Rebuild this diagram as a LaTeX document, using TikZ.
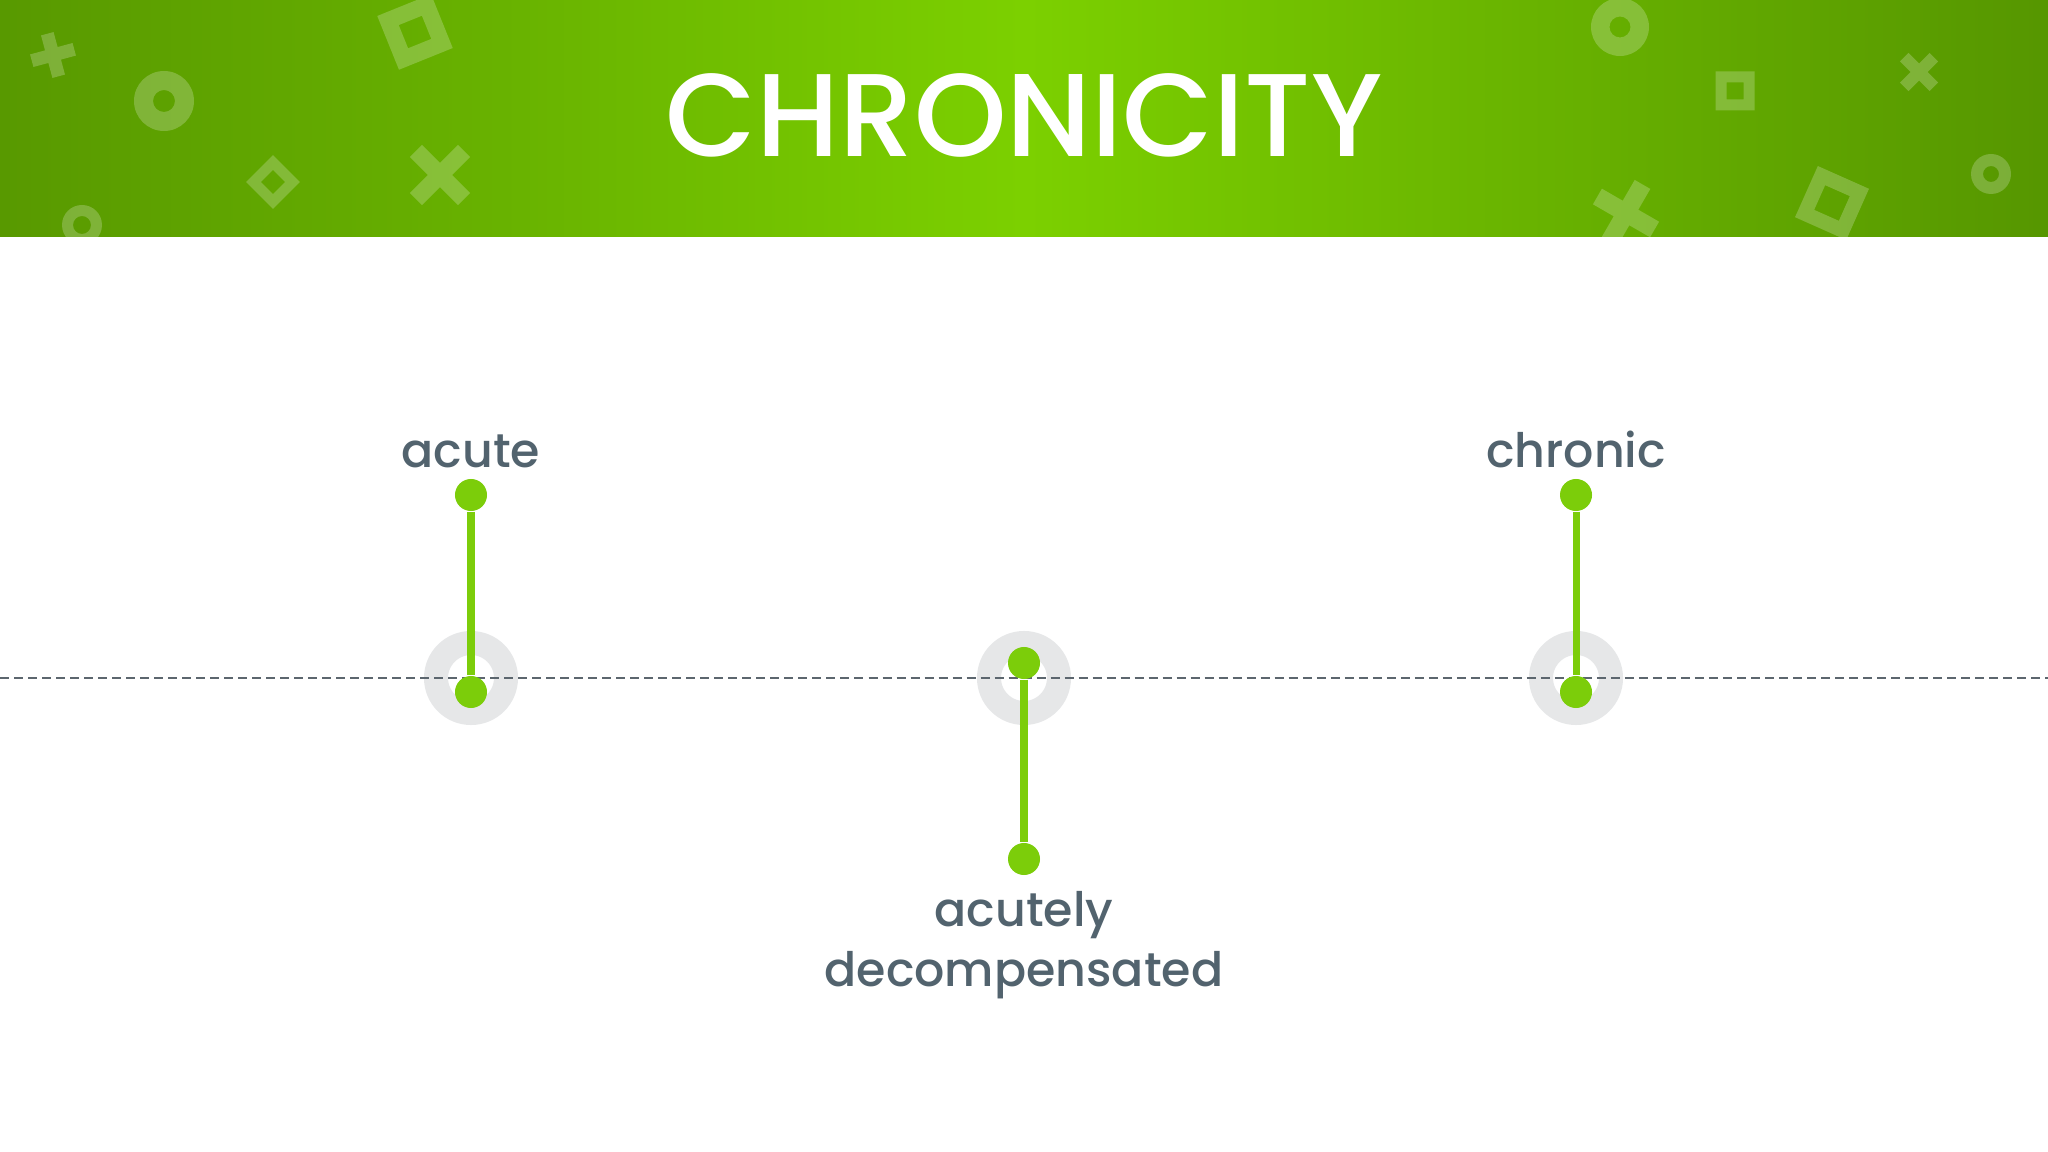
\documentclass[tikz,border=0pt]{standalone}
\usepackage{fontspec}
\setmainfont{Poppins Medium}
\usepackage{tikz}

\definecolor{leafgreen}{RGB}{124,205,10}
\definecolor{halogray}{RGB}{230,231,232}
\definecolor{slate}{RGB}{82,99,110}
\definecolor{axisgray}{RGB}{92,102,110}
\pgfdeclarehorizontalshading{headband}{100bp}{rgb(0bp)=(0.345,0.6,0);
    rgb(25bp)=(0.345,0.6,0); rgb(37.5bp)=(0.41,0.70,0); rgb(50bp)=(0.486,0.816,0);
    rgb(62.5bp)=(0.41,0.70,0); rgb(75bp)=(0.337,0.59,0); rgb(100bp)=(0.337,0.59,0)}

\begin{document}
\begin{tikzpicture}[x=0.01cm, y=-0.01cm,
    dot/.style={circle,fill=leafgreen,minimum size=0.32cm,inner sep=0pt},
    stem/.style={draw=leafgreen,line width=2pt},
    halo/.style={draw=halogray,line width=0.24cm},
    lbl/.style={text=slate,font=\fontsize{13.5}{17}\selectfont,align=center,inner sep=0pt},
    deco/.style={fill=white,fill opacity=0.22}]
    \useasboundingbox (0,0) rectangle (2048,1152);
    \fill[white] (0,0) rectangle (2048,1152);

    \shade[shading=headband] (0,0) rectangle (2048,237);
    \begin{scope}
        \clip (0,0) rectangle (2048,237);
        \foreach \cx/\cy/\ro/\ri in {164/101/30/11, 82/225/20/9, 1620/27/29/10.5, 1991/174/20/8}
            \fill[deco,even odd rule] (\cx,\cy) circle[radius=\ro] (\cx,\cy) circle[radius=\ri];
        \foreach \cx/\cy/\ang/\so/\si in {415/32/22/29/12.5, 273/182/45/19/8.5, 1735/91/0/19.5/8.5, 1832/203/-24/28/13.5}
            \fill[deco,even odd rule,shift={(\cx,\cy)},rotate=\ang] (-\so,-\so) rectangle (\so,\so) (-\si,-\si) rectangle (\si,\si);
        \foreach \cx/\cy/\ang/\arm/\thk in {53/55/15/22/6.5, 440/175/45/34/8.5, 1919/72/45/21/6, 1626/213/-30/33/9}
            \fill[deco,shift={(\cx,\cy)},rotate=\ang] (-\arm,-\thk) rectangle (\arm,\thk) (-\thk,-\arm) rectangle (\thk,\arm);
    \end{scope}
    \node[text=white,font=\fontsize{33.5}{40}\selectfont] (title) at (1024,115) {CHRONICITY};

    \draw[halo] (471,678) circle[radius=35];
    \draw[halo] (1024,678) circle[radius=35];
    \draw[halo] (1576,678) circle[radius=35];
    \draw[axisgray,line width=0.8pt,dash pattern=on 0.09cm off 0.05cm] (0,678) -- (2048,678);

    \node[dot] (acutetop) at (471,495) {};
    \node[dot] (acutebase) at (471,692) {};
    \node[dot] (decombase) at (1024,663) {};
    \node[dot] (decombot) at (1024,859) {};
    \node[dot] (chrontop) at (1576,495) {};
    \node[dot] (chronbase) at (1576,692) {};

    \draw[stem] (acutetop) -- (acutebase);
    \draw[stem] (decombase) -- (decombot);
    \draw[stem] (chrontop) -- (chronbase);

    \node[lbl,anchor=base] (acute) at (471,468) {acute};
    \node[lbl,anchor=base] (chronic) at (1576,468) {chronic};
    \node[lbl,anchor=north] (decomp) at (1024,891) {acutely\\decompensated};
\end{tikzpicture}
\end{document}
